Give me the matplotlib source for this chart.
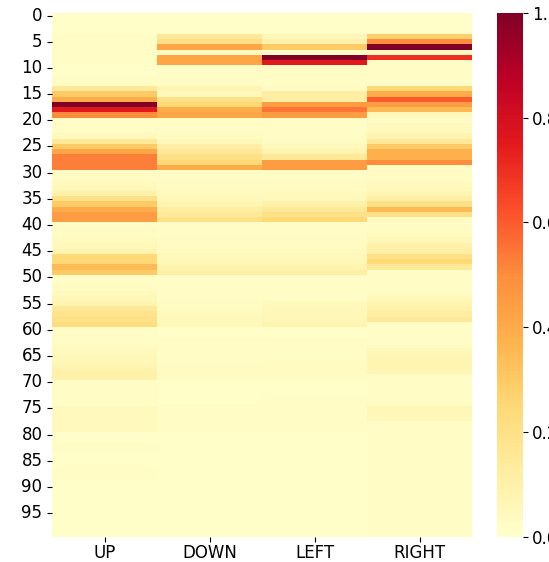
import numpy as np
import pandas as pd
import matplotlib
matplotlib.use("Agg")
import matplotlib.pyplot as plt
import seaborn as sns

actions = ["UP", "DOWN", "LEFT", "RIGHT"]

up = [0.01, 0.01, 0.01, 0.01, 0.02, 0.02, 0.02, 0.02, 0.02, 0.02,
      0.01, 0.01, 0.02, 0.03, 0.15, 0.30, 0.40, 1.00, 0.75, 0.50,
      0.02, 0.02, 0.02, 0.04, 0.15, 0.30, 0.42, 0.53, 0.53, 0.53,
      0.03, 0.03, 0.04, 0.06, 0.10, 0.20, 0.30, 0.40, 0.45, 0.45,
      0.02, 0.03, 0.03, 0.04, 0.05, 0.08, 0.25, 0.25, 0.35, 0.30,
      0.02, 0.02, 0.03, 0.04, 0.06, 0.08, 0.15, 0.18, 0.20, 0.22,
      0.02, 0.02, 0.02, 0.03, 0.04, 0.05, 0.06, 0.08, 0.10, 0.10,
      0.02, 0.02, 0.02, 0.02, 0.02, 0.04, 0.04, 0.04, 0.04, 0.04,
      0.01, 0.01, 0.02, 0.02, 0.01, 0.01, 0.01, 0.02, 0.02, 0.01,
      0.01, 0.01, 0.01, 0.01, 0.01, 0.01, 0.01, 0.01, 0.01, 0.01]

down = [0.01, 0.01, 0.01, 0.01, 0.15, 0.20, 0.42, 0.03, 0.42, 0.42,
        0.02, 0.02, 0.02, 0.02, 0.08, 0.05, 0.20, 0.25, 0.40, 0.42,
        0.02, 0.02, 0.02, 0.03, 0.05, 0.12, 0.15, 0.20, 0.25, 0.40,
        0.02, 0.02, 0.03, 0.03, 0.04, 0.05, 0.08, 0.12, 0.15, 0.20,
        0.02, 0.02, 0.02, 0.03, 0.03, 0.04, 0.05, 0.06, 0.08, 0.12,
        0.02, 0.02, 0.02, 0.02, 0.02, 0.03, 0.03, 0.04, 0.05, 0.05,
        0.01, 0.01, 0.02, 0.02, 0.02, 0.02, 0.02, 0.03, 0.03, 0.03,
        0.01, 0.01, 0.01, 0.01, 0.01, 0.02, 0.02, 0.02, 0.02, 0.02,
        0.01, 0.01, 0.01, 0.01, 0.01, 0.01, 0.01, 0.01, 0.01, 0.01,
        0.01, 0.01, 0.01, 0.01, 0.01, 0.01, 0.01, 0.01, 0.01, 0.01]

left = [0.01, 0.01, 0.01, 0.01, 0.06, 0.10, 0.30, 0.02, 1.00, 0.75,
        0.02, 0.02, 0.02, 0.02, 0.03, 0.12, 0.12, 0.45, 0.55, 0.45,
        0.02, 0.02, 0.02, 0.02, 0.03, 0.05, 0.08, 0.15, 0.45, 0.45,
        0.02, 0.02, 0.03, 0.03, 0.04, 0.05, 0.10, 0.15, 0.20, 0.25,
        0.02, 0.02, 0.02, 0.03, 0.03, 0.04, 0.05, 0.06, 0.08, 0.12,
        0.02, 0.02, 0.02, 0.02, 0.02, 0.04, 0.05, 0.06, 0.06, 0.08,
        0.01, 0.01, 0.02, 0.02, 0.02, 0.02, 0.03, 0.03, 0.03, 0.03,
        0.01, 0.01, 0.01, 0.02, 0.02, 0.02, 0.02, 0.02, 0.02, 0.02,
        0.01, 0.01, 0.01, 0.01, 0.01, 0.01, 0.01, 0.01, 0.01, 0.01,
        0.01, 0.01, 0.01, 0.01, 0.01, 0.01, 0.01, 0.01, 0.01, 0.01]

right = [0.01, 0.01, 0.01, 0.01, 0.28, 0.50, 1.00, 0.04, 0.70, 0.02,
         0.02, 0.02, 0.02, 0.02, 0.25, 0.40, 0.60, 0.45, 0.35, 0.05,
         0.03, 0.04, 0.04, 0.08, 0.15, 0.30, 0.38, 0.38, 0.50, 0.03,
         0.03, 0.03, 0.04, 0.05, 0.08, 0.12, 0.20, 0.35, 0.20, 0.03,
         0.03, 0.03, 0.04, 0.06, 0.10, 0.12, 0.20, 0.25, 0.15, 0.02,
         0.02, 0.02, 0.02, 0.03, 0.06, 0.08, 0.10, 0.12, 0.15, 0.02,
         0.02, 0.02, 0.02, 0.03, 0.05, 0.07, 0.08, 0.08, 0.07, 0.02,
         0.02, 0.02, 0.02, 0.02, 0.03, 0.06, 0.06, 0.05, 0.02, 0.02,
         0.02, 0.02, 0.02, 0.02, 0.02, 0.02, 0.02, 0.02, 0.02, 0.02,
         0.02, 0.02, 0.02, 0.02, 0.02, 0.02, 0.02, 0.02, 0.02, 0.02]

df = pd.DataFrame({"UP": up, "DOWN": down, "LEFT": left, "RIGHT": right})

fig = plt.figure(figsize=(5.49, 5.62), dpi=100)
ax = fig.add_axes([0.095, 0.045, 0.765, 0.932])
cax = fig.add_axes([0.905, 0.045, 0.047, 0.932])

sns.heatmap(df, ax=ax, cbar_ax=cax, cmap="YlOrRd", vmin=0, vmax=1,
            yticklabels=5)

ax.set_yticks(np.arange(0, 100, 5) + 0.5)
ax.set_yticklabels([str(i) for i in range(0, 100, 5)], rotation=0, fontsize=12)
ax.set_xticklabels(actions, rotation=0, fontsize=12)
ax.tick_params(axis="x", pad=1.5)
cax.tick_params(labelsize=12)

fig.savefig("out.png", dpi=100)
